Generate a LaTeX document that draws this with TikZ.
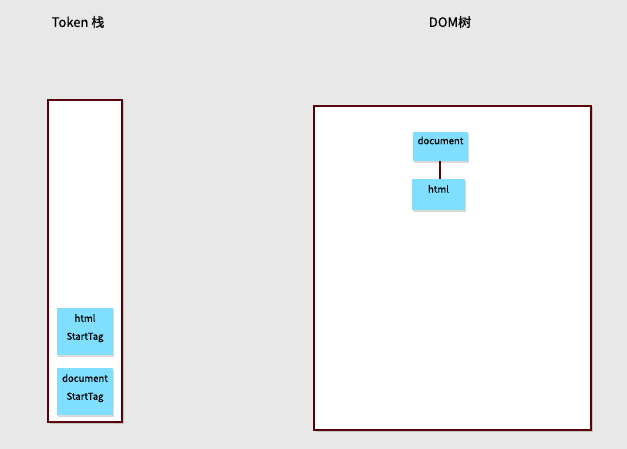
\documentclass[tikz,border=0pt]{standalone}
\usepackage{fontspec}
\setmainfont{Noto Sans CJK SC}[FakeBold=0.5]
\usetikzlibrary{positioning,shadows}

\definecolor{bggray}{HTML}{E8E8E8}
\definecolor{boxred}{HTML}{5A0008}
\definecolor{tokenblue}{HTML}{80DFFF}

\begin{document}
\begin{tikzpicture}[x = 1pt, y = -1pt,
    panel/.style = {draw = boxred, line width = 1.6pt, fill = white, drop shadow = {opacity = 0.35, shadow xshift = 1.5pt, shadow yshift = -1.5pt}},
    token/.style = {fill = tokenblue, inner sep = 0pt, font = \fontsize{9.5}{18}\selectfont, align = center, drop shadow = {opacity = 0.3, shadow xshift = 1pt, shadow yshift = -1.5pt}},
    title/.style = {font = \fontsize{13}{15}\selectfont}]
                \path[fill = bggray](0,0) rectangle (627,449);
                \useasboundingbox (0,0) rectangle (627,449);
                % titles
                \node[title] (stacktitle) at (78,22) {Token 栈};
                \node[title] (domtitle) at (450,22) {DOM树};
                % stack
                \path[panel](48,100) rectangle (122,422);
                \node[token, minimum width = 56pt, minimum height = 47pt, text depth = 9pt] (htmltag) at (85,331.5) {html\\StartTag};
                \node[token, minimum width = 56pt, minimum height = 47pt, text depth = 9pt] (doctag) at (85,391.5) {document\\StartTag};
                % tree
                \path[panel](314,106) rectangle (591,430);
                \node[token, minimum width = 55pt, minimum height = 29pt, text height = 7pt, text depth = 12pt, anchor = north] (docnode) at (440.5,132) {document};
                \node[token, minimum width = 53pt, minimum height = 31pt, text height = 7pt, text depth = 11pt, anchor = north] (htmlnode) at (438.5,179) {html};
                \path[draw, boxred, line width = 1.6pt](docnode.south -| 440,0) to (htmlnode.north -| 440,0);
            \end{tikzpicture}
\end{document}
